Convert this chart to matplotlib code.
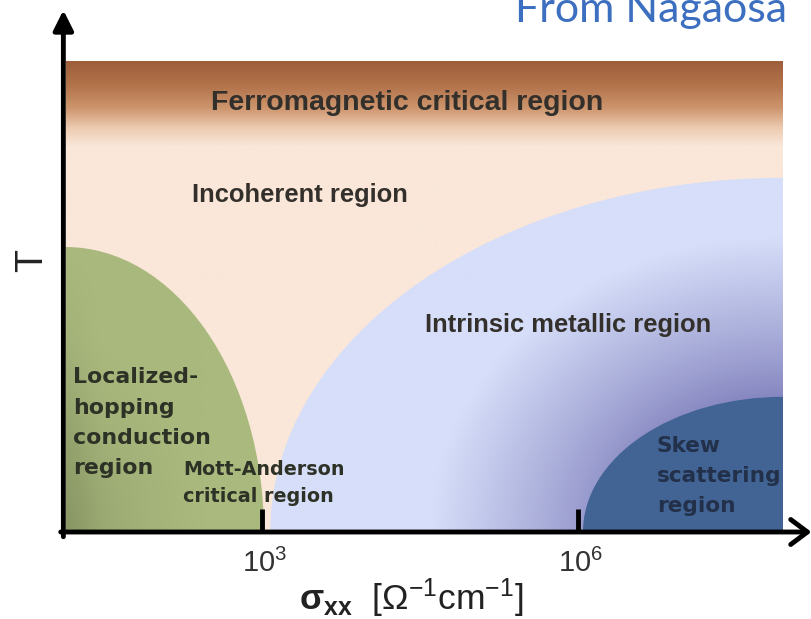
import numpy as np
import matplotlib.pyplot as plt
from matplotlib.patches import Ellipse

plt.rcParams['mathtext.fontset'] = 'custom'
plt.rcParams['mathtext.rm'] = 'Liberation Sans'
plt.rcParams['mathtext.bf'] = 'Liberation Sans:bold'
plt.rcParams['mathtext.it'] = 'Liberation Sans:italic'

# Axes: x = log10(sigma_xx), y = T (arbitrary units)
log_sigma_range = [1.14, 7.95]
T_range = [0.0, 10.0]
tick_logs = [3, 6]
tick_labels = [r'$10^3$', r'$10^6$']

# Regions as quarter ellipses: [centre log sigma, centre T, semi-axis log sigma, semi-axis T]
hopping_region = [1.14, 0.0, 1.88, 6.05]
metallic_region = [7.95, 0.0, 4.87, 7.52]
skew_region = [7.95, 0.0, 1.90, 2.87]

# Ferromagnetic band: colour fade over T
ferro_T = [8.2, 8.6, 9.0, 9.5, 10.0]
ferro_rgb = [(250, 231, 217), (236, 202, 176), (206, 150, 110), (178, 114, 74), (158, 94, 58)]

labels_hopping = ['Localized-', 'hopping', 'conduction', 'region']
labels_mott = ['Mott-Anderson', 'critical region']
labels_skew = ['Skew', 'scattering', 'region']

fig = plt.figure(figsize=(8.12, 6.19), dpi=100)
ax = fig.add_axes([66 / 812, 1 - 532 / 619, (783 - 66) / 812, (532 - 61) / 619])
ax.set_xlim(log_sigma_range)
ax.set_ylim(T_range)
ax.axis('off')

# background + ferromagnetic band
ty = np.linspace(T_range[0], T_range[1], 400)
col = np.stack([np.interp(ty, ferro_T, [c[i] for c in ferro_rgb]) for i in range(3)], axis=-1) / 255
ax.imshow(col[::-1, None, :], extent=[*log_sigma_range, *T_range], aspect='auto', zorder=0)


def region_image(reg, x0, x1, shade):
    cx, cy, a, b = reg
    xs = np.linspace(x0, x1, 300)
    ys = np.linspace(0, b, 300)
    X, Y = np.meshgrid(xs, ys)
    img = shade(X, Y, cx, cy, a, b)
    ell = Ellipse((cx, cy), 2 * a, 2 * b, facecolor='none', edgecolor='none')
    ax.add_patch(ell)
    im = ax.imshow(img[::-1], extent=[x0, x1, 0, b], aspect='auto', zorder=1)
    im.set_clip_path(ell)


def green_shade(X, Y, cx, cy, a, b):
    r = np.sqrt(((X - cx) / a) ** 2 + ((Y - cy) / b) ** 2)
    light = np.array([170, 186, 126]) / 255
    dark = np.array([130, 144, 96]) / 255
    d = 0.55 * np.clip(1 - r / 0.7, 0, 1) ** 1.2
    d += 0.3 * np.exp(-((X - cx) / (0.12 * a)) ** 2) * np.clip(1 - (Y / b) ** 2, 0, 1)
    d = np.clip(d, 0, 1)[..., None]
    return light * (1 - d) + dark * d


def blue_shade(X, Y, cx, cy, a, b):
    # darker halo around the skew-scattering corner
    u = np.sqrt(((X - cx) / (0.66 * a)) ** 2 + ((Y - cy) / (0.8 * b)) ** 2)
    t = np.clip((u - 0.42) / 0.62, 0, 1) ** 0.85
    light = np.array([214, 222, 249]) / 255
    dark = np.array([122, 122, 184]) / 255
    t = t[..., None]
    return dark * (1 - t) + light * t


region_image(hopping_region, hopping_region[0], hopping_region[0] + hopping_region[2], green_shade)
region_image(metallic_region, metallic_region[0] - metallic_region[2], metallic_region[0], blue_shade)

cx, cy, a, b = skew_region
ax.add_patch(Ellipse((cx, cy), 2 * a, 2 * b, facecolor='#416494', edgecolor='none', zorder=2))

# axes with arrows
ax.annotate('', xy=(1.115, 11.08), xytext=(1.115, -0.1), annotation_clip=False,
            arrowprops=dict(arrowstyle='-|>,head_length=0.6,head_width=0.3', lw=3.5,
                            color='black', shrinkA=0, shrinkB=0, mutation_scale=20))
ax.annotate('', xy=(8.22, 0.0), xytext=(1.09, 0.0), annotation_clip=False,
            arrowprops=dict(arrowstyle='->,head_length=0.6,head_width=0.45', lw=3.5,
                            color='black', shrinkA=0, shrinkB=0, mutation_scale=20))
for xt, lab in zip(tick_logs, tick_labels):
    ax.plot([xt, xt], [0, 0.48], color='black', lw=3.5, solid_capstyle='butt', clip_on=False, zorder=5)
    ax.text(xt + 0.03, -0.85, lab, ha='center', va='baseline', fontsize=21, color='#333333')

# region labels
dark_txt = '#33302c'
ax.text(4.377, 8.96, 'Ferromagnetic critical region', ha='center', va='baseline',
        fontsize=20.5, fontweight='bold', family='Liberation Sans', color=dark_txt)
ax.text(2.335, 7.01, 'Incoherent region', ha='left', va='baseline',
        fontsize=18.4, fontweight='bold', family='Liberation Sans', color=dark_txt)
ax.text(4.548, 4.25, 'Intrinsic metallic region', ha='left', va='baseline',
        fontsize=18.4, fontweight='bold', family='Liberation Sans', color=dark_txt)
for i, s in enumerate(labels_hopping):
    ax.text(1.206, 3.16 - i * 0.645, s, ha='left', va='baseline', fontsize=15.8,
            fontweight='bold', family='DejaVu Sans', color='#2e3226')
for i, s in enumerate(labels_mott):
    ax.text(2.25, 1.21 - i * 0.57, s, ha='left', va='baseline', fontsize=13.8,
            fontweight='bold', family='DejaVu Sans', color='#2e3226')
for i, s in enumerate(labels_skew):
    ax.text(6.75, 1.70 - i * 0.64, s, ha='left', va='baseline', fontsize=15.6,
            fontweight='bold', family='DejaVu Sans', color='#23304a')

# axis titles
fig.text(32 / 812, 1 - 261 / 619, 'T', rotation=90, ha='center', va='center',
         fontsize=27, family='Liberation Sans', color='#222222')
fig.text(411 / 812, 9 / 619, r'$\mathbf{σ}_{\mathbf{xx}}$  [Ω$^{\mathrm{-1}}$cm$^{\mathrm{-1}}$]',
         ha='center', va='baseline', fontsize=25.5, family='Liberation Sans', color='#222222')
fig.text(515 / 812, 1 - 22 / 619, 'From Nagaosa', ha='left', va='baseline',
         fontsize=31, family='Lato', color='#3d6fc0')

fig.savefig('out.png', dpi=100)
